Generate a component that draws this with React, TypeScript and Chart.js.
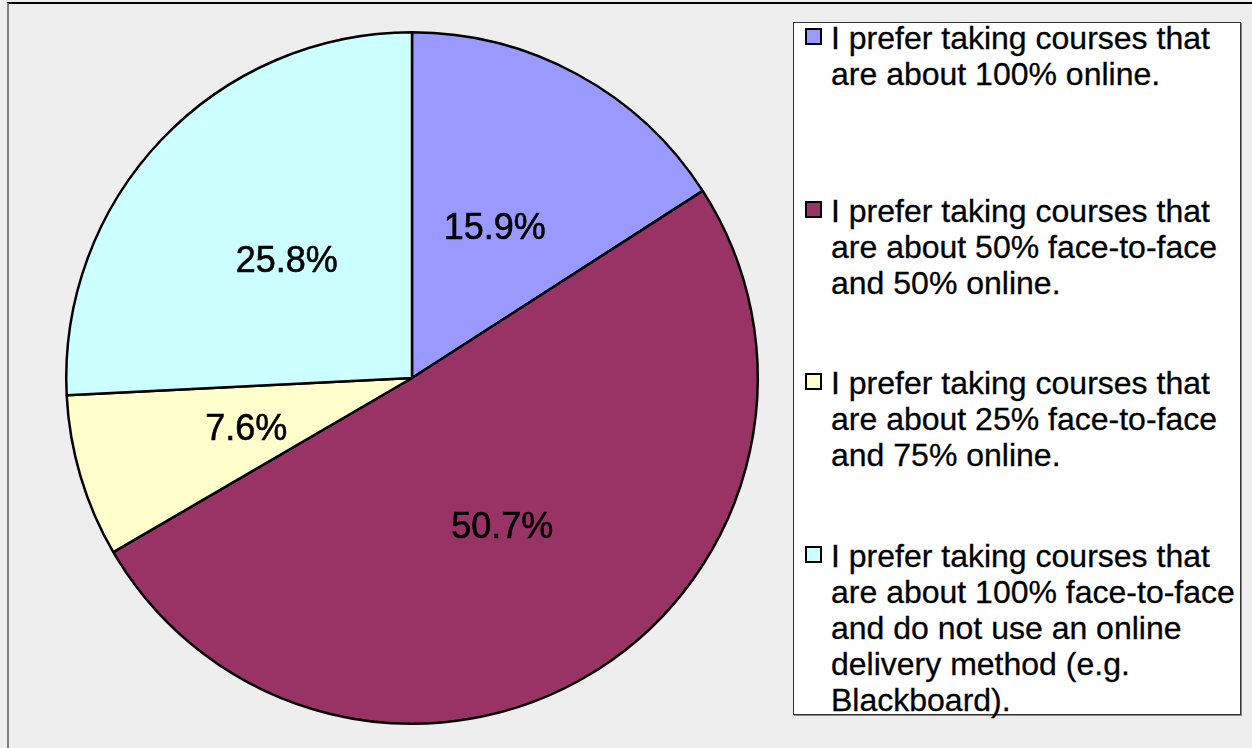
import React, { useEffect, useRef } from "react";
import { Chart, registerables } from "chart.js";

Chart.register(...registerables);

const categories: string[] = [
  "I prefer taking courses that are about 100% online.",
  "I prefer taking courses that are about 50% face-to-face and 50% online.",
  "I prefer taking courses that are about 25% face-to-face and 75% online.",
  "I prefer taking courses that are about 100% face-to-face and do not use an online delivery method (e.g. Blackboard).",
];
const legendLines: string[][] = [
  ["I prefer taking courses that", "are about 100% online."],
  ["I prefer taking courses that", "are about 50% face-to-face", "and 50% online."],
  ["I prefer taking courses that", "are about 25% face-to-face", "and 75% online."],
  ["I prefer taking courses that", "are about 100% face-to-face", "and do not use an online", "delivery method (e.g.", "Blackboard)."],
];
const values: number[] = [15.9, 50.7, 7.6, 25.8];
const colors: string[] = ["#9999ff", "#993366", "#ffffcc", "#ccffff"];

const FONT = "'Liberation Sans', Arial, sans-serif";

const labelPlugin = {
  id: "sliceLabels",
  afterDatasetsDraw(chart: any) {
    const ctx = chart.ctx;
    const meta = chart.getDatasetMeta(0);
    ctx.save();
    ctx.font = `36px ${FONT}`;
    ctx.fillStyle = "#000";
    ctx.strokeStyle = "#000";
    ctx.lineWidth = 0.6;
    ctx.textAlign = "center";
    ctx.textBaseline = "middle";
    meta.data.forEach((arc: any, i: number) => {
      const p = arc.tooltipPosition();
      const t = values[i].toFixed(1) + "%";
      ctx.fillText(t, p.x, p.y + 3);
      ctx.strokeText(t, p.x, p.y + 3);
    });
    ctx.restore();
  },
};

export default function App() {
  const ref = useRef<HTMLCanvasElement | null>(null);
  useEffect(() => {
    if (!ref.current) return;
    const chart = new Chart(ref.current, {
      type: "pie",
      data: {
        labels: categories,
        datasets: [
          {
            data: values,
            backgroundColor: colors,
            borderColor: "#000",
            borderWidth: 2.5,
          },
        ],
      },
      options: {
        responsive: false,
        animation: false,
        layout: { padding: { left: 65, right: 21, top: 31, bottom: 23 } },
        plugins: {
          legend: { display: false },
          tooltip: { enabled: false },
        },
      },
      plugins: [labelPlugin],
    });
    return () => chart.destroy();
  }, []);

  const slot = 172.7;
  return (
    <div
      style={{
        position: "fixed",
        left: 0,
        top: 0,
        width: 1252,
        height: 748,
        background: "#eeeeee",
        overflow: "hidden",
        fontFamily: FONT,
      }}
    >
      <div
        style={{
          position: "absolute",
          left: 7,
          top: 2,
          width: 1252,
          height: 760,
          borderTop: "2px solid #000",
          borderLeft: "2px solid #808080",
        }}
      />
      <canvas ref={ref} width={780} height={748} style={{ position: "absolute", left: 0, top: 0 }} />
      <div
        style={{
          position: "absolute",
          left: 793,
          top: 22,
          width: 446,
          height: 691,
          background: "#fff",
          border: "1px solid #333",
          boxShadow: "1px 1px 0 #888",
        }}
      />
      {legendLines.map((lines, i) => (
        <div
          key={i}
          style={{
            position: "absolute",
            left: 805,
            top: 20 + i * slot,
            width: 430,
          }}
        >
          <div
            style={{
              position: "absolute",
              left: 0,
              top: 8,
              width: 13,
              height: 13,
              background: colors[i],
              border: "2px solid #000",
            }}
          />
          {lines.map((t, j) => (
            <div
              key={j}
              style={{
                position: "absolute",
                left: 26,
                top: j * 36,
                fontSize: 32,
                lineHeight: "36px",
                whiteSpace: "nowrap",
                color: "#000",
                WebkitTextStroke: "0.3px #000",
              }}
            >
              {t}
            </div>
          ))}
        </div>
      ))}
    </div>
  );
}
